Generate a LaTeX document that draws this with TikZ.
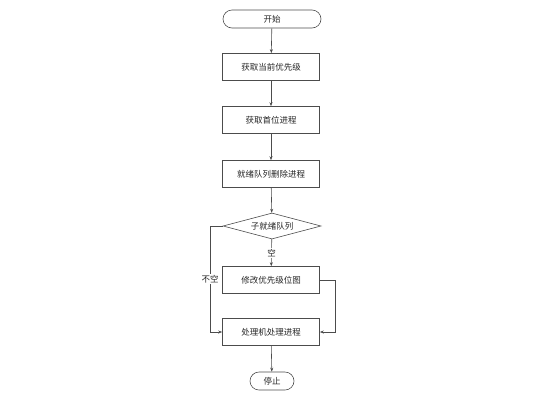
\documentclass[tikz,border=0pt]{standalone}
\usepackage{fontspec}
\setmainfont{Noto Sans CJK SC}
\usetikzlibrary{shapes.geometric,arrows.meta}
\begin{document}
\begin{tikzpicture}[x=1pt,y=-1pt,
  every node/.style={font=\fontsize{8.5}{10}\selectfont, text=black!85},
  proc/.style={draw=black!70, line width=0.6pt, minimum width=97pt, minimum height=27pt, inner sep=0pt},
  term/.style={draw=black!70, line width=0.6pt, rounded corners=9pt, minimum height=18pt, inner sep=0pt},
  dec/.style={draw=black!70, line width=0.6pt, diamond, aspect=3.77, minimum width=98pt, minimum height=26pt, inner sep=0pt},
  conn/.style={draw=black!70, line width=0.6pt, -{Stealth[length=4pt,width=3pt]}},
  lab/.style={fill=white, inner sep=1pt}]
\useasboundingbox (0,0) rectangle (545,400);
\node[term, minimum width=98pt] (start) at (272,19) {开始};
\node[proc] (p1) at (271,67) {获取当前优先级};
\node[proc] (p2) at (271,120) {获取首位进程};
\node[proc] (p3) at (271,174) {就绪队列删除进程};
\node[dec] (d) at (272,226) {子就绪队列};
\node[proc] (p4) at (271,280) {修改优先级位图};
\node[proc] (p5) at (271,332) {处理机处理进程};
\node[term, minimum width=44pt] (stop) at (272,381) {停止};
\coordinate (lt) at (210,226);
\coordinate (lb) at (210,332);
\coordinate (rt) at (335,280);
\coordinate (rb) at (335,332);
\draw[conn] (start) -- (p1);
\draw[conn] (p1) -- (p2);
\draw[conn] (p2) -- (p3);
\draw[conn] (p3) -- (d);
\draw[conn] (d) -- node[lab, pos=0.5] {空} (p4);
\draw[conn] (d.west) -- (lt) -- node[lab, pos=0.5] {不空} (lb) -- (p5.west);
\draw[conn] (p4.east) -- (rt) -- (rb) -- (p5.east);
\draw[conn] (p5) -- (stop);
\end{tikzpicture}
\end{document}
